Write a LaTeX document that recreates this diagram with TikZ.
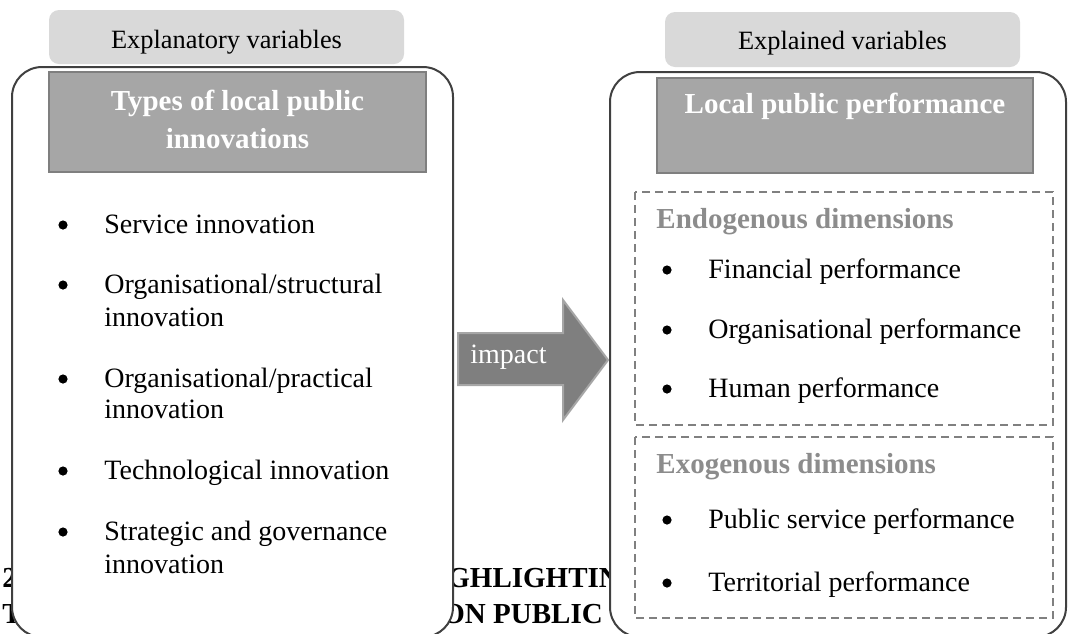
\documentclass[tikz,border=0pt]{standalone}
\usepackage{fontspec}
\setmainfont{Liberation Serif}
\usetikzlibrary{positioning}
\definecolor{boxline}{HTML}{404040}
\definecolor{tabgray}{HTML}{D9D9D9}
\definecolor{headgray}{HTML}{A6A6A6}
\definecolor{headline}{HTML}{7F7F7F}
\definecolor{dashgray}{HTML}{808080}
\definecolor{dimgray}{HTML}{8C8C8C}
\definecolor{arrowgray}{HTML}{7F7F7F}
\definecolor{arrowline}{HTML}{A6A6A6}

\begin{document}
\begin{tikzpicture}[
  x=0.5pt, y=-0.5pt,
  bigbox/.style={draw=boxline,line width=1pt,fill=white,rounded corners=15pt},
  tabbox/.style={fill=tabgray,rounded corners=5pt},
  headbox/.style={fill=headgray,draw=headline,line width=1.2pt},
  dimbox/.style={draw=dashgray,line width=1.2pt,dash pattern=on 4pt off 2.5pt},
  impactarrow/.style={fill=arrowgray,draw=arrowline,line width=1pt},
  tabtext/.style={anchor=base,inner sep=0pt,font=\fontsize{13.2}{15}\selectfont},
  headtext/.style={anchor=base,inner sep=0pt,text=white,font=\fontsize{14.5}{17}\selectfont\bfseries},
  itemtext/.style={anchor=base west,inner sep=0pt,font=\fontsize{14}{17}\selectfont},
  bulletmark/.style={circle,fill=black,inner sep=0pt,minimum size=4.6pt},
  dimtext/.style={anchor=base west,inner sep=0pt,text=dimgray,font=\fontsize{14.5}{17}\selectfont\bfseries},
  behindtext/.style={anchor=base west,inner sep=0pt,font=\fontsize{14.5}{17}\selectfont\bfseries}
]
\clip (0,0) rectangle (1068,633);

% heading of the page, showing between the boxes
\node[behindtext] (bgtwo) at (2,587) {2};
\node[behindtext] (bgT) at (2,623) {T};
\node[behindtext] (bgfirst) at (447,587) {GHLIGHTIN};
\node[behindtext] (bgsecond) at (442,623) {ON PUBLIC};

% explanatory side
\draw[bigbox] (12,67) rectangle (453,637);
\fill[tabbox] (49,10) rectangle (404,64);
\node[tabtext] (lefttab) at (226.5,48) {Explanatory variables};
\draw[headbox] (49,72) rectangle (426,172);
\node[headtext] (lefthead) at (237.5,110) {Types of local public};
\node[headtext] (leftheadb) at (237.5,148) {innovations};
\foreach \y in {233,293,387,479,540}
  \node[bulletmark] (lb\y) at (63,\y-8) {};
\foreach \y/\txt in {233/Service innovation,293/{Organisational/structural},326/innovation,
  387/{Organisational/practical},418/innovation,479/Technological innovation,
  540/Strategic and governance,573/innovation}
  \node[itemtext] (li\y) at (104,\y) {\txt};

% arrow
\draw[impactarrow] (458,333) -- (563,333) -- (563,300) -- (608,360)
  -- (563,420) -- (563,385) -- (458,385) -- cycle;
\node[itemtext,text=white] (impact) at (470,363) {impact};

% explained side
\draw[bigbox] (610,72) rectangle (1066,637);
\fill[tabbox] (665,12) rectangle (1020,67);
\node[tabtext] (righttab) at (842.5,49) {Explained variables};
\draw[headbox] (657,78) rectangle (1033,173);
\node[headtext] (righthead) at (845,113) {Local public performance};

\draw[dimbox] (635,192) rectangle (1053,425);
\node[dimtext] (endo) at (656,228) {Endogenous dimensions};
\draw[dimbox] (635,437) rectangle (1053,618);
\node[dimtext] (exo) at (656,473) {Exogenous dimensions};
\foreach \y in {278,338,397,528,591}
  \node[bulletmark] (rb\y) at (667,\y-8) {};
\foreach \y/\txt in {278/Financial performance,338/Organisational performance,
  397/Human performance,528/Public service performance,591/Territorial performance}
  \node[itemtext] (ri\y) at (708,\y) {\txt};
\end{tikzpicture}
\end{document}
